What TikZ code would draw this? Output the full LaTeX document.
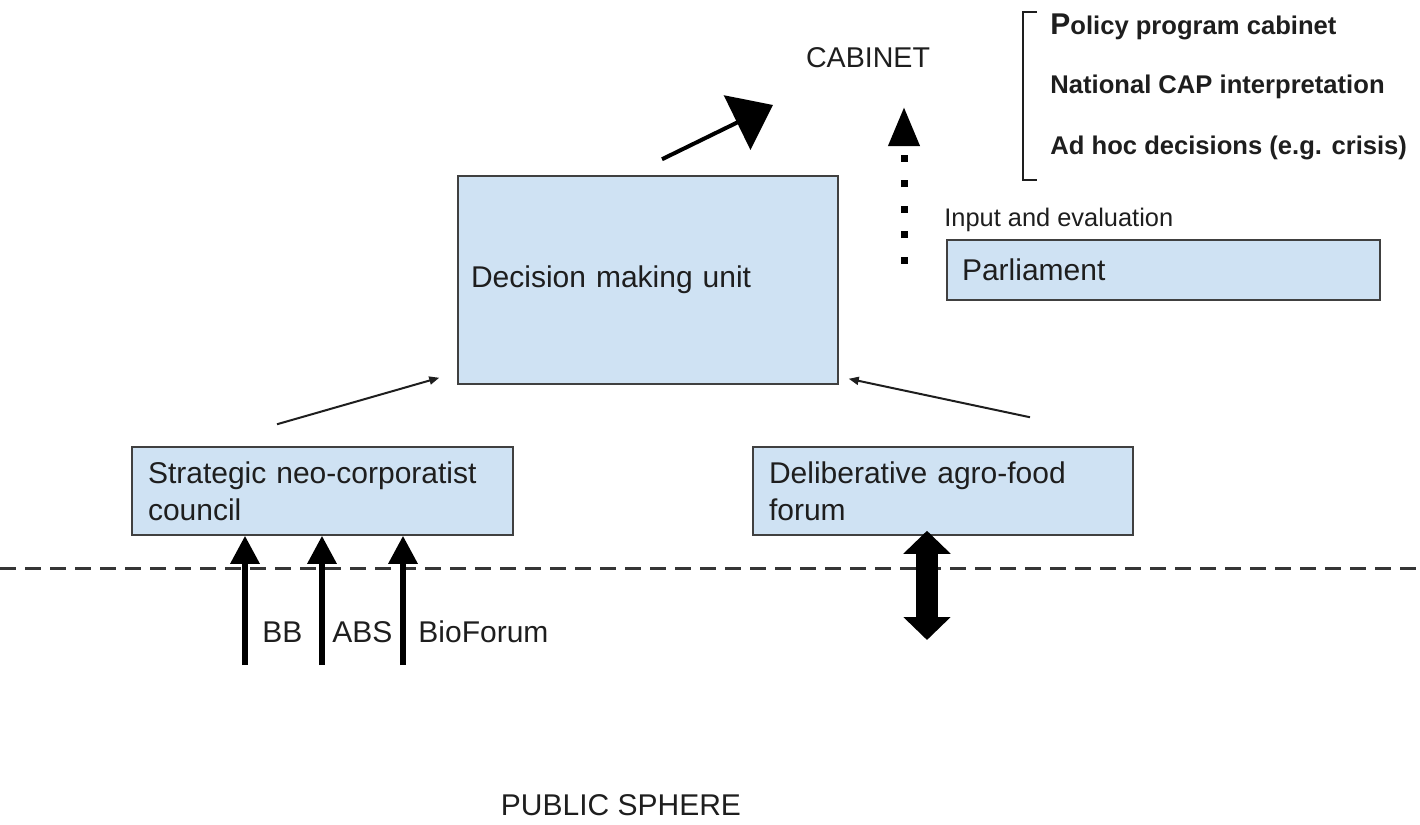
\documentclass[tikz,border=0pt]{standalone}
\usepackage{fontspec}
\setmainfont{Liberation Sans}
\usetikzlibrary{arrows.meta}
\definecolor{boxfill}{HTML}{CFE2F3}
\definecolor{ink}{HTML}{1E1E1E}
\begin{document}
\begin{tikzpicture}[x=0.5pt,y=-0.5pt,
  every node/.style={text=ink, inner sep=0pt},
  unitbox/.style={draw=ink!85, line width=0.75pt, fill=boxfill, align=left,
    inner ysep=0pt, font=\fontsize{15}{18.5}\selectfont},
  plain/.style={font=\fontsize{15}{18}\selectfont},
  boldtxt/.style={font=\fontsize{12.8}{15}\selectfont\bfseries, anchor=west},
  thin/.style={line width=1pt, draw=ink, -{Triangle[length=5pt,width=4pt]}},
  lobby/.style={line width=3pt, draw=black, -{Triangle[length=14pt,width=14pt]}},
  twoway/.style={line width=11pt, draw=black,
    {Triangle[length=11.5pt,width=23pt]}-{Triangle[length=11.5pt,width=23pt]}},
  bigarrow/.style={line width=2pt, draw=black, -{Triangle[length=20pt,width=30pt]}},
  dotline/.style={line width=3.5pt, draw=black, dash pattern=on 3.5pt off 9.25pt,
    -{Triangle[length=19.5pt,width=15pt]}}
]
\useasboundingbox (0,0) rectangle (1420,825);

% boxes
\node[unitbox, text width=177pt, inner xsep=6.5pt, minimum height=104pt]
  (dec) at (648,280) {Decision making unit};
\node[unitbox, text width=201.5pt, inner xsep=7.5pt, minimum height=30pt]
  (parl) at (1163.5,270) {Parliament};
\node[unitbox, text width=174.5pt, inner xsep=8pt, minimum height=44pt]
  (strat) at (322.5,491) {Strategic neo-corporatist\\council};
\node[unitbox, text width=174pt, inner xsep=8pt, minimum height=44pt]
  (delib) at (943,491) {Deliberative agro-food\\forum};

% free labels
\node[plain, font=\fontsize{14.3}{16}\selectfont] (cab) at (868,58) {CABINET};
\node[plain] (pub) at (621,805) {PUBLIC SPHERE};
\node[anchor=west, font=\fontsize{12.7}{15}\selectfont] (inp) at (944,220) {Input and evaluation};

% cabinet agenda
\node[boldtxt] (t1) at (1050,27) {{\fontsize{15}{15}\selectfont P}olicy program cabinet};
\node[boldtxt] (t2) at (1050,87) {National CAP interpretation};
\node[boldtxt] (t3) at (1050,148) {Ad hoc decisions (e.g. crisis)};
\draw[line width=0.9pt, ink] (1037,12) -- (1023,12) -- (1023,180) -- (1037,180);

% boundary to the public sphere
\draw[line width=1.5pt, ink!90, dash pattern=on 8pt off 4.5pt] (0,568) -- (1420,568);

% organisations feeding the council
\coordinate (bbfoot) at (245,665);
\coordinate (absfoot) at (322,665);
\coordinate (biofoot) at (403,665);
\draw[lobby] (bbfoot) -- (strat.south -| bbfoot);
\draw[lobby] (absfoot) -- (strat.south -| absfoot);
\draw[lobby] (biofoot) -- (strat.south -| biofoot);
\node[plain, anchor=west] (bb) at (262,632) {BB};
\node[plain, anchor=west] (abs) at (332,632) {ABS};
\node[plain, anchor=west] (bio) at (418,632) {BioForum};

% forum <-> public sphere
\coordinate (dblfoot) at (927,640);
\draw[twoway] ([yshift=2.5pt]delib.south -| dblfoot) -- (dblfoot);

% advice into the decision unit
\draw[thin] ([xshift=-22.75pt,yshift=11pt]strat.north) -- ([xshift=-9pt,yshift=3.5pt]dec.south west);
\draw[thin] ([xshift=43.5pt,yshift=14.5pt]delib.north) -- ([xshift=5pt,yshift=3pt]dec.south east);

% decision unit -> cabinet
\coordinate (cabin) at (773,105);
\draw[bigarrow] ([xshift=7pt,yshift=8pt]dec.north) -- (cabin);

% parliament -> cabinet (dotted)
\coordinate (parlup) at (904,263.5);
\coordinate (cabdot) at (904,107);
\draw[dotline] (parlup) -- (cabdot);
\end{tikzpicture}
\end{document}
